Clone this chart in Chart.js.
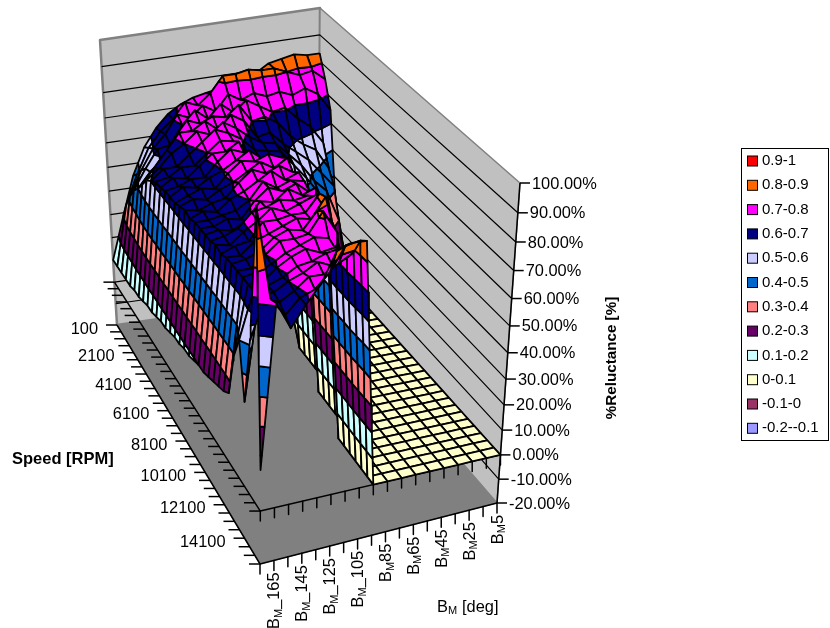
<!DOCTYPE html>
<html lang="en">
<head>
<meta charset="UTF-8">
<title>%Reluctance surface</title>
<script src="https://cdn.jsdelivr.net/npm/chart.js"></script>
<style>
  body { margin: 0; background: #fff; }
</style>
</head>
<body>
<canvas id="surface" width="830" height="628"></canvas>
<script>
// categories
const angles = [5, 15, 25, 35, 45, 55, 65, 75, 85, 95, 105, 115, 125, 135, 145, 155, 165, 175];
const speeds = [100, 600, 1100, 1600, 2100, 2600, 3100, 3600, 4100, 4600, 5100, 5600, 6100, 6600, 7100, 7600,
  8100, 8600, 9100, 9600, 10100, 10600, 11100, 11600, 12100, 12600, 13100, 13600, 14100, 14600, 15100, 15600];
const zTicks = [-0.2, -0.1, 0, 0.1, 0.2, 0.3, 0.4, 0.5, 0.6, 0.7, 0.8, 0.9, 1];

// one row per speed, one column per angle (5 .. 175)
const reluctance = [
  [.83, .83, .84, .83, .82, .79, .77, .76, .75, .74, .73, .71, .68, .63, .56, .45, .28, .10],
  [.75, .79, .78, .80, .82, .82, .83, .82, .82, .76, .72, .74, .68, .64, .58, .48, .36, .10],
  [.65, .72, .75, .73, .75, .74, .76, .74, .77, .71, .74, .70, .72, .65, .60, .52, .42, .10],
  [.32, .55, .62, .66, .71, .70, .73, .76, .72, .76, .71, .75, .70, .63, .62, .55, .47, .10],
  [.13, .47, .55, .58, .62, .68, .71, .70, .77, .73, .74, .72, .74, .68, .55, .56, .50, .10],
  [.05, .42, .48, .54, .58, .62, .67, .66, .73, .76, .71, .75, .72, .72, .66, .60, .54, .11],
  [0, .30, .43, .48, .55, .60, .65, .66, .69, .73, .76, .72, .74, .70, .67, .62, .58, .11],
  [0, .15, .33, .45, .52, .58, .64, .65, .66, .71, .74, .76, .72, .68, .64, .64, .60, .12],
  [0, .05, .20, .33, .42, .50, .62, .64, .65, .68, .73, .74, .70, .66, .66, .63, .62, .13],
  [0, 0, .08, .20, .30, .38, .48, .64, .65, .66, .75, .72, .72, .68, .64, .65, .62, .13],
  [0, 0, 0, .08, .15, .25, .35, .60, .64, .68, .73, .75, .71, .66, .66, .64, .63, .14],
  [0, 0, 0, 0, .05, .10, .20, .62, .68, .72, .76, .73, .70, .68, .65, .66, .63, .15],
  [0, 0, 0, 0, 0, 0, 0, .08, .74, .76, .74, .75, .71, .66, .67, .65, .63, .15],
  [0, 0, 0, 0, 0, 0, 0, 0, .76, .73, .76, .73, .70, .68, .65, .66, .64, .16],
  [0, 0, 0, 0, 0, 0, 0, 0, .73, .76, .74, .76, .72, .67, .66, .64, .65, .17],
  [0, 0, 0, 0, 0, 0, 0, 0, .75, .73, .77, .74, .71, .69, .65, .66, .64, .17],
  [0, 0, 0, 0, 0, 0, 0, 0, .74, .75, .73, .76, .70, .67, .66, .65, .65, .18],
  [0, 0, 0, 0, 0, 0, 0, 0, .72, .76, .74, .76, .72, .66, .67, .65, .65, .18],
  [0, 0, 0, 0, 0, 0, 0, 0, .76, .74, .77, .73, .74, .68, .65, .66, .65, .19],
  [0, 0, 0, 0, 0, 0, 0, 0, 0, .76, .75, .76, .74, .73, .68, .66, .65, .20],
  [0, 0, 0, 0, 0, 0, 0, 0, 0, .78, .76, .74, .76, .72, .69, .65, .66, .20],
  [0, 0, 0, 0, 0, 0, 0, 0, 0, .81, .75, .75, .74, .74, .68, .67, .65, .21],
  [0, 0, 0, 0, 0, 0, 0, 0, 0, .82, .75, .76, .74, .72, .70, .66, .66, .22],
  [0, 0, 0, 0, 0, 0, 0, 0, 0, .76, .80, .74, .75, .73, .69, .67, .66, .23],
  [0, 0, 0, 0, 0, 0, 0, 0, 0, .74, .82, .75, .74, .74, .70, .66, .66, .24],
  [0, 0, 0, 0, 0, 0, 0, 0, 0, 0, .75, .76, .74, .72, .69, .67, .66, .26],
  [0, 0, 0, 0, 0, 0, 0, 0, 0, 0, .74, .73, .75, .73, .70, .66, .66, .42],
  [0, 0, 0, 0, 0, 0, 0, 0, 0, 0, .76, .75, .73, .72, .69, .67, .66, .50],
  [0, 0, 0, 0, 0, 0, 0, 0, 0, 0, .75, .73, .75, .72, .70, .67, .67, .31],
  [0, 0, 0, 0, 0, 0, 0, 0, 0, 0, .79, .76, .73, .73, .69, .66, .68, .55],
  [0, 0, 0, 0, 0, 0, 0, 0, 0, 0, .85, .84, .76, .71, .69, .64, .70, 1],
  [0, 0, 0, 0, 0, 0, 0, 0, 0, 0, .87, .87, .85, .75, .69, .62, .71, .15]
];

// colour bands, top of the legend first
const bandLabels = ['0.9-1', '0.8-0.9', '0.7-0.8', '0.6-0.7', '0.5-0.6', '0.4-0.5', '0.3-0.4', '0.2-0.3', '0.1-0.2', '0-0.1', '-0.1-0', '-0.2--0.1'];
const bandLow = [.9, .8, .7, .6, .5, .4, .3, .2, .1, 0, -.1, -.2];
const bandColors = ['#FF0000', '#FF6600', '#FF00FF', '#000080', '#CCCCFF', '#0066CC', '#FF8080', '#660066', '#CCFFFF', '#FFFFCC', '#993366', '#9999FF'];

// the box in page units: [x, y] of the corners at the floor and at the ceiling
const backFloor = [318, 296], backTop = [320, 8];
const leftFloor = [117, 325], leftTop = [100, 40];
const rightFloor = [497, 503], rightTop = [520, 183];
const frontFloor = [260, 564], frontTop = [262, 212];

const lastU = angles.length - 1, lastV = speeds.length - 1;
const persp = (t, r) => t / (t + (1 - t) * r);

// u = angle index, v = speed index, z = value
function project(u, v, z) {
  const a = persp(u / lastU, 1.0), b = persp(v / lastV, 1.13), c = persp((z + .2) / 1.2, 1.13);
  const corner = (i) => {
    const floor = (1 - a) * ((1 - b) * backFloor[i] + b * rightFloor[i]) + a * ((1 - b) * leftFloor[i] + b * frontFloor[i]);
    const top = (1 - a) * ((1 - b) * backTop[i] + b * rightTop[i]) + a * ((1 - b) * leftTop[i] + b * frontTop[i]);
    return (1 - c) * floor + c * top;
  };
  return { x: corner(0), y: corner(1) };
}

const marks = [];
function addMark(pts, color, fill, width) {
  const closed = fill ? pts.concat([pts[0]]) : pts;
  marks.push({
    data: closed,
    showLine: true,
    pointRadius: 0,
    borderColor: color,
    borderWidth: width,
    borderJoinStyle: 'round',
    backgroundColor: fill || 'transparent',
    fill: fill ? 'shape' : false,
    tension: 0,
    clip: false
  });
}

// floor and walls
addMark([project(0, 0, -.2), project(lastU, 0, -.2), project(lastU, lastV, -.2), project(0, lastV, -.2)], '#808080', '#808080', 1);
addMark([project(lastU, 0, -.2), project(0, 0, -.2), project(0, 0, 1), project(lastU, 0, 1)], '#808080', '#C0C0C0', 2.5);
addMark([project(0, 0, -.2), project(0, lastV, -.2), project(0, lastV, 1), project(0, 0, 1)], '#808080', '#C0C0C0', 1.5);
zTicks.slice(1, -1).forEach(z => {
  addMark([project(lastU, 0, z), project(0, 0, z), project(0, lastV, z)], '#000', null, 1.2);
});

// axes and their ticks, on the floor and on the zero plane
[-.2, 0].forEach(z => {
  addMark([project(lastU, 0, z), project(lastU, lastV, z), project(0, lastV, z)], '#000', null, 1.5);
  speeds.forEach((s, v) => {
    const p = project(lastU, v, z);
    addMark([p, { x: p.x - 11, y: p.y }], '#000', null, 1.5);
  });
  angles.forEach((an, u) => {
    const p = project(u, lastV, z);
    addMark([p, { x: p.x, y: p.y + 10 }], '#000', null, 1.5);
  });
});
addMark([project(0, lastV, -.2), project(0, lastV, 1)], '#000', null, 1.5);
zTicks.forEach(z => {
  const p = project(0, lastV, z);
  addMark([p, { x: p.x + 10, y: p.y }], '#000', null, 1.5);
});

// keep the part of a cell between two heights
function clipZ(poly, level, keepAbove) {
  const out = [];
  poly.forEach((p, i) => {
    const q = poly[(i + 1) % poly.length];
    const pIn = keepAbove ? p.z >= level : p.z <= level;
    const qIn = keepAbove ? q.z >= level : q.z <= level;
    if (pIn) out.push(p);
    if (pIn !== qIn) {
      const t = (level - p.z) / (q.z - p.z);
      out.push({ u: p.u + t * (q.u - p.u), v: p.v + t * (q.v - p.v), z: level });
    }
  });
  return out;
}

// surface, from the far corner to the near one
for (let v = 0; v < lastV; v++) {
  for (let u = 0; u < lastU; u++) {
    const cell = [[u, v], [u + 1, v], [u + 1, v + 1], [u, v + 1]].map(c => ({ u: c[0], v: c[1], z: reluctance[c[1]][c[0]] }));
    const zs = cell.map(p => p.z);
    const minZ = Math.min(...zs), maxZ = Math.max(...zs);
    for (let b = bandLow.length - 1; b >= 0; b--) {
      const lo = bandLow[b], hi = lo + .1;
      if (minZ >= hi - 1e-9 || maxZ < lo) continue;
      const part = clipZ(clipZ(cell, lo, true), hi, false);
      if (part.length < 3) continue;
      addMark(part.map(p => project(p.u, p.v, p.z)), '#000', bandColors[b], 1.8);
    }
  }
}

const textFont = '16.4px "Liberation Sans", Arial, sans-serif';
const subFont = '11px "Liberation Sans", Arial, sans-serif';

const surfaceLabels = {
  id: 'surfaceLabels',
  afterDraw(chart) {
    const ctx = chart.ctx;
    const sx = chart.scales.x, sy = chart.scales.y;
    const at = p => ({ x: sx.getPixelForValue(p.x), y: sy.getPixelForValue(p.y) });
    ctx.save();
    ctx.fillStyle = '#000';
    ctx.textBaseline = 'middle';

    // value axis
    ctx.font = textFont;
    ctx.textAlign = 'left';
    zTicks.forEach(z => {
      const p = at(project(0, lastV, z));
      ctx.fillText((z * 100).toFixed(2) + '%', p.x + 12, p.y + 1);
    });

    // speed axis
    ctx.textAlign = 'right';
    speeds.forEach((s, v) => {
      if (v % 4) return;
      const p = at(project(lastU, v, -.2));
      ctx.fillText(String(s), p.x - 19, p.y + 4);
    });

    // angle axis, every other category
    angles.forEach((an, u) => {
      if (u % 2) return;
      const p = at(project(u, lastV, -.2));
      const rest = (an > 95 ? '_' : '') + an;
      ctx.save();
      ctx.translate(p.x + 1, p.y + 12);
      ctx.rotate(-Math.PI / 2);
      ctx.textAlign = 'left';
      ctx.font = textFont;
      const wRest = ctx.measureText(rest).width;
      const wB = ctx.measureText('B').width;
      ctx.font = subFont;
      const wM = ctx.measureText('M').width;
      const x = -(wB + wM + wRest);
      ctx.font = textFont;
      ctx.fillText('B', x, 0);
      ctx.font = subFont;
      ctx.fillText('M', x + wB, 4);
      ctx.font = textFont;
      ctx.fillText(rest, x + wB + wM, 0);
      ctx.restore();
    });

    // axis titles
    ctx.textAlign = 'left';
    ctx.font = 'bold 16.5px "Liberation Sans", Arial, sans-serif';
    ctx.fillText('Speed [RPM]', 12, 459);
    ctx.font = textFont;
    ctx.fillText('B', 437, 607);
    ctx.font = subFont;
    ctx.fillText('M', 448, 611);
    ctx.font = textFont;
    ctx.fillText('[deg]', 462, 607);
    ctx.save();
    ctx.translate(612, 358);
    ctx.rotate(-Math.PI / 2);
    ctx.textAlign = 'center';
    ctx.font = 'bold 15.2px "Liberation Sans", Arial, sans-serif';
    ctx.fillText('%Reluctance [%]', 0, 0);
    ctx.restore();

    // legend
    ctx.strokeStyle = '#000';
    ctx.lineWidth = 1;
    ctx.strokeRect(741.5, 148.5, 87, 292);
    ctx.textAlign = 'left';
    ctx.font = '15px "Liberation Sans", Arial, sans-serif';
    bandLabels.forEach((label, i) => {
      const y = 161 + i * 24.3;
      ctx.fillStyle = bandColors[i];
      ctx.fillRect(747.5, y - 5, 10, 10);
      ctx.strokeRect(747.5, y - 5, 10, 10);
      ctx.fillStyle = '#000';
      ctx.fillText(label, 762, y);
    });
    ctx.restore();
  }
};

new Chart(document.getElementById('surface'), {
  type: 'scatter',
  // the library paints the last dataset first
  data: { datasets: marks.slice().reverse() },
  plugins: [surfaceLabels],
  options: {
    responsive: false,
    animation: false,
    events: [],
    layout: { padding: 0 },
    scales: {
      x: { type: 'linear', min: 0, max: 830, display: false },
      y: { type: 'linear', min: 0, max: 628, reverse: true, display: false }
    },
    plugins: {
      legend: { display: false },
      tooltip: { enabled: false },
      filler: { drawTime: 'beforeDatasetDraw' }
    }
  }
});
</script>
</body>
</html>
